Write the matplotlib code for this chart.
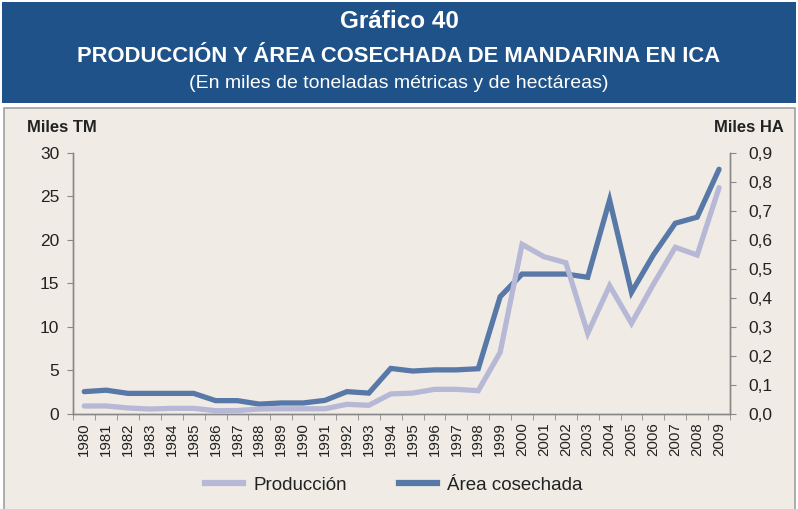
import matplotlib
matplotlib.use("Agg")
import matplotlib.pyplot as plt
from matplotlib.patches import Rectangle
from matplotlib.lines import Line2D
import numpy as np

plt.rcParams['font.family'] = ['Liberation Sans', 'DejaVu Sans']

years = [str(y) for y in range(1980, 2010)]
produccion = [0.92, 0.92, 0.69, 0.57, 0.65, 0.65, 0.38, 0.40, 0.57, 0.60,
              0.60, 0.60, 1.11, 1.00, 2.30, 2.40, 2.83, 2.83, 2.68, 7.08,
              19.48, 18.06, 17.37, 9.26, 14.73, 10.41, 14.90, 19.14, 18.25, 25.98]
area = [0.077, 0.082, 0.071, 0.071, 0.071, 0.071, 0.046, 0.046, 0.034, 0.038,
        0.038, 0.047, 0.077, 0.072, 0.157, 0.148, 0.152, 0.152, 0.156, 0.404,
        0.482, 0.482, 0.482, 0.471, 0.737, 0.419, 0.548, 0.657, 0.678, 0.843]
left_ticks = [0, 5, 10, 15, 20, 25, 30]
right_ticks = [0.0, 0.1, 0.2, 0.3, 0.4, 0.5, 0.6, 0.7, 0.8, 0.9]

W, H = 798, 509
fig = plt.figure(figsize=(W / 100, H / 100), dpi=100)
fig.patch.set_facecolor('white')

def fx(px):
    return px / W

def fy(py):
    return 1 - py / H

header_blue = '#1F5288'
panel_bg = '#F0ECE5'
dark = '#5878A8'
light = '#B7B8D6'
grey = '#888888'
txt = '#222222'

# Header
fig.patches.append(Rectangle((fx(2), fy(103)), fx(794), 101 / H, transform=fig.transFigure,
                             facecolor=header_blue, edgecolor='none', zorder=-2))
# Panel
fig.patches.append(Rectangle((fx(3.5), fy(520)), fx(791), (520 - 107.5) / H, transform=fig.transFigure,
                             facecolor=panel_bg, edgecolor='#A0A0A0', linewidth=1.2, zorder=-2))

fig.text(0.5, fy(22), 'Gráfico 40', ha='center', va='center', color='white',
         fontsize=17.5, fontweight='bold')
fig.text(0.5, fy(56), 'PRODUCCIÓN Y ÁREA COSECHADA DE MANDARINA EN ICA', ha='center', va='center',
         color='white', fontsize=15.8, fontweight='bold')
fig.text(0.5, fy(83), '(En miles de toneladas métricas y de hectáreas)', ha='center', va='center',
         color='white', fontsize=14)

ax = fig.add_axes([fx(73.3), fy(414), fx(730 - 73.3), (414 - 152.7) / H])
ax2 = ax.twinx()
ax2.set_zorder(1)
ax.set_zorder(2)
ax.patch.set_visible(False)
ax2.patch.set_visible(False)

x = np.arange(len(years))
ax2.plot(x, area, color=dark, linewidth=3.8, solid_capstyle='round', solid_joinstyle='miter')
ax.plot(x, produccion, color=light, linewidth=3.8, solid_capstyle='round', solid_joinstyle='miter')

ax.set_xlim(-0.5, len(years) - 0.5)
ax.set_ylim(0, 30)
ax2.set_ylim(0, 0.9)
ax.set_yticks(left_ticks)
ax.set_yticklabels([str(v) for v in left_ticks])
ax2.set_yticks(right_ticks)
ax2.set_yticklabels([f'{v:.1f}'.replace('.', ',') for v in right_ticks])

ax.set_xticks(x)
ax.set_xticklabels(years, rotation=90, fontsize=10.8, color=txt)
ax.set_xticks(np.arange(-0.5, len(years)), minor=True)
ax.tick_params(axis='x', which='major', length=0, pad=6)
ax.tick_params(axis='x', which='minor', length=4, color=grey, direction='out')

ax.tick_params(axis='y', which='major', length=4, color=grey, labelsize=12.5, labelcolor=txt, pad=6)
ax2.tick_params(axis='y', which='major', length=4, color=grey, labelsize=12.5, labelcolor=txt, pad=9)

for a in (ax, ax2):
    a.spines['top'].set_visible(False)
    for s in ('left', 'right', 'bottom'):
        a.spines[s].set_color(grey)
        a.spines[s].set_linewidth(1.0)

fig.text(fx(27), fy(128), 'Miles TM', ha='left', va='center', fontsize=11.9, fontweight='bold', color=txt)
fig.text(fx(784), fy(128), 'Miles HA', ha='right', va='center', fontsize=11.9, fontweight='bold', color=txt)

handles = [Line2D([], [], color=light, linewidth=4.5),
           Line2D([], [], color=dark, linewidth=4.5)]
fig.legend(handles, ['Producción', 'Área cosechada'], loc='center', bbox_to_anchor=(fx(394), fy(485)),
           ncol=2, frameon=False, fontsize=13.5, handlelength=2.0, columnspacing=2.8,
           handletextpad=0.55, labelcolor=txt)

fig.savefig('out.png', dpi=100, facecolor=fig.get_facecolor())
